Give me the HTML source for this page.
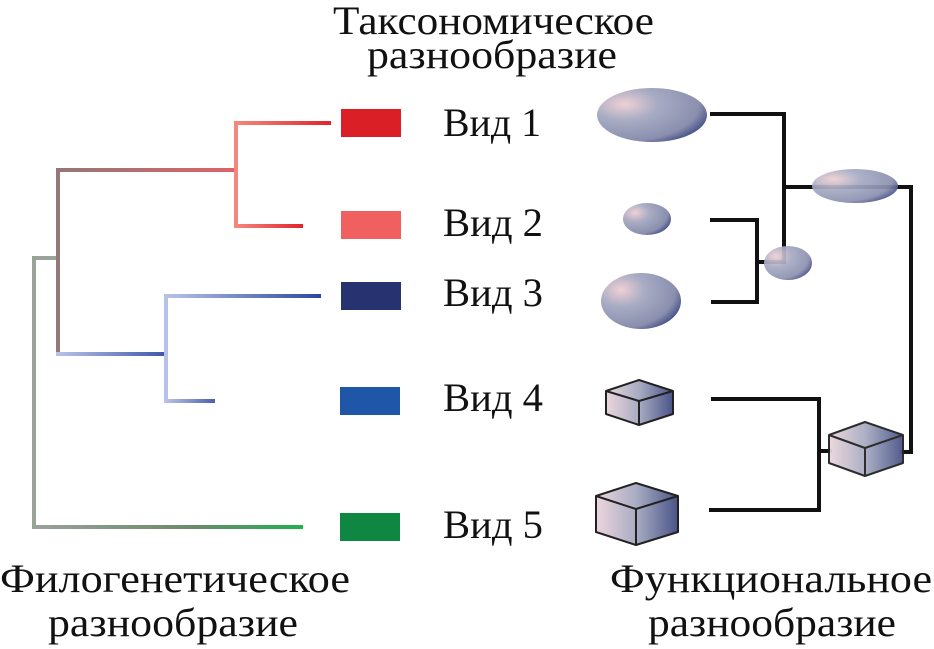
<!DOCTYPE html>
<html><head><meta charset="utf-8"><style>
html,body{margin:0;padding:0;background:#fff;}
svg{display:block;}
text{font-family:"Liberation Serif",serif;font-size:40px;fill:#111;}
</style></head><body>
<svg width="934" height="649" viewBox="0 0 934 649" xmlns="http://www.w3.org/2000/svg">
<defs>
<linearGradient id="gRed1" gradientUnits="userSpaceOnUse" x1="236" y1="0" x2="331" y2="0"><stop offset="0" stop-color="#f4877d"/><stop offset="1" stop-color="#e0242a"/></linearGradient>
<linearGradient id="gRed2" gradientUnits="userSpaceOnUse" x1="236" y1="0" x2="303" y2="0"><stop offset="0" stop-color="#f4877d"/><stop offset="1" stop-color="#e0242a"/></linearGradient>
<linearGradient id="gTop" gradientUnits="userSpaceOnUse" x1="58" y1="0" x2="236" y2="0"><stop offset="0" stop-color="#927878"/><stop offset="1" stop-color="#e06168"/></linearGradient>
<linearGradient id="gBlueA" gradientUnits="userSpaceOnUse" x1="58" y1="0" x2="168" y2="0"><stop offset="0" stop-color="#b8c2e8"/><stop offset="1" stop-color="#3a54a8"/></linearGradient>
<linearGradient id="gBlueB" gradientUnits="userSpaceOnUse" x1="166" y1="0" x2="321" y2="0"><stop offset="0" stop-color="#b8c2e8"/><stop offset="1" stop-color="#2a48a0"/></linearGradient>
<linearGradient id="gBlueC" gradientUnits="userSpaceOnUse" x1="166" y1="0" x2="215" y2="0"><stop offset="0" stop-color="#b8c2e8"/><stop offset="1" stop-color="#4a60b0"/></linearGradient>
<linearGradient id="gGreen" gradientUnits="userSpaceOnUse" x1="34" y1="0" x2="303" y2="0"><stop offset="0" stop-color="#9aa29a"/><stop offset="0.6" stop-color="#6a8a6a"/><stop offset="1" stop-color="#22b050"/></linearGradient>
<radialGradient id="ell" cx="0.25" cy="0.3" r="0.85"><stop offset="0" stop-color="#f0d0d4"/><stop offset="0.35" stop-color="#a8acc4"/><stop offset="0.8" stop-color="#8a8fae"/><stop offset="1" stop-color="#3b4680"/></radialGradient>
<linearGradient id="cube" x1="0" x2="1"><stop offset="0" stop-color="#ecd6dc"/><stop offset="0.5" stop-color="#a7abc2"/><stop offset="1" stop-color="#4a5488"/></linearGradient>
</defs>

<text x="333" y="34" textLength="321" lengthAdjust="spacingAndGlyphs">Таксономическое</text>
<text x="367" y="68" textLength="250" lengthAdjust="spacingAndGlyphs">разнообразие</text>

<g stroke-width="4" fill="none" stroke-linecap="butt">
<path d="M34 256 V529" stroke="#9aa29a"/>
<path d="M32 258 H58" stroke="#9aa29a"/>
<path d="M34 527 H303" stroke="url(#gGreen)"/>
<path d="M58 168 V356" stroke="#927878"/>
<path d="M56 170 H236" stroke="url(#gTop)"/>
<path d="M236 121 V228" stroke="#f4877d"/>
<path d="M234 123 H331" stroke="url(#gRed1)"/>
<path d="M234 226 H303" stroke="url(#gRed2)"/>
<path d="M56 354 H168" stroke="url(#gBlueA)"/>
<path d="M166 294 V403" stroke="#b8c2e8"/>
<path d="M164 296 H321" stroke="url(#gBlueB)"/>
<path d="M164 401 H215" stroke="url(#gBlueC)"/>
</g>

<rect x="341" y="109" width="60" height="28" fill="#da1f26"/>
<rect x="341" y="211" width="60" height="28" fill="#f06060"/>
<rect x="341" y="282" width="60" height="28" fill="#263370"/>
<rect x="340" y="387" width="60" height="28" fill="#1f56a8"/>
<rect x="340" y="513" width="60" height="28" fill="#0f8642"/>

<text x="443" y="136" textLength="98" lengthAdjust="spacingAndGlyphs">Вид 1</text>
<text x="443" y="236" textLength="100" lengthAdjust="spacingAndGlyphs">Вид 2</text>
<text x="443" y="306" textLength="100" lengthAdjust="spacingAndGlyphs">Вид 3</text>
<text x="443" y="411" textLength="100" lengthAdjust="spacingAndGlyphs">Вид 4</text>
<text x="443" y="538" textLength="100" lengthAdjust="spacingAndGlyphs">Вид 5</text>

<g stroke="#111" stroke-width="4" fill="none">
<path d="M710 114 H784 V262 H764"/>
<path d="M784 187 H911 V452 H900"/>
<path d="M710 220 H757 V302 H711"/>
<path d="M757 262 H768"/>
<path d="M711 399 H819 V510 H709"/>
<path d="M819 451 H832"/>
</g>

<ellipse cx="652" cy="115" rx="55" ry="27" fill="url(#ell)"/>
<ellipse cx="855" cy="186" rx="43" ry="17" fill="url(#ell)" opacity="0.92"/>
<ellipse cx="647" cy="219" rx="24" ry="16" fill="url(#ell)"/>
<ellipse cx="641" cy="301" rx="40" ry="28" fill="url(#ell)"/>
<ellipse cx="788" cy="263" rx="24" ry="17" fill="url(#ell)" opacity="0.92"/>

<g stroke="#222" stroke-width="2" stroke-linejoin="round">
<g transform="translate(606,380)">
<path d="M0 11 L33 0 L67 11 L67 34 L33 45 L0 34 Z" fill="url(#cube)"/>
<path d="M0 11 L33 21 L67 11" fill="none"/><path d="M33 21 V45" fill="none"/>
</g>
<g transform="translate(596,483)">
<path d="M0 13 L40 0 L82 13 L82 49 L40 62 L0 49 Z" fill="url(#cube)"/>
<path d="M0 13 L40 26 L82 13" fill="none"/><path d="M40 26 V62" fill="none"/>
</g>
<g transform="translate(829,422)" opacity="0.95">
<path d="M0 13 L36 0 L74 13 L74 41 L36 54 L0 41 Z" fill="url(#cube)"/>
<path d="M0 13 L36 26 L74 13" fill="none"/><path d="M36 26 V54" fill="none"/>
</g>
</g>

<text x="0" y="592" textLength="350" lengthAdjust="spacingAndGlyphs">Филогенетическое</text>
<text x="48" y="636" textLength="250" lengthAdjust="spacingAndGlyphs">разнообразие</text>
<text x="610" y="592" textLength="322" lengthAdjust="spacingAndGlyphs">Функциональное</text>
<text x="648" y="636" textLength="248" lengthAdjust="spacingAndGlyphs">разнообразие</text>
</svg>
</body></html>
